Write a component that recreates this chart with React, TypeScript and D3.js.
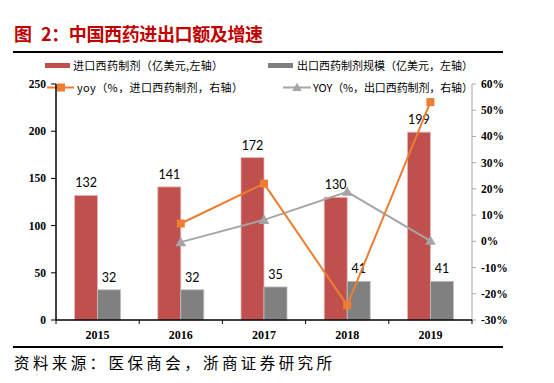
import React from "react";
import * as d3 from "d3";

const years = ["2015", "2016", "2017", "2018", "2019"];
const importValues = [132, 141, 172, 130, 199];
const exportValues = [32, 32, 35, 41, 41];
const importYoy: (number | null)[] = [null, 6.8, 22.0, -24.4, 53.1];
const exportYoy: (number | null)[] = [null, -0.3, 8.2, 18.9, 0.2];
const leftTicks = [0, 50, 100, 150, 200, 250];
const rightTicks = [-30, -20, -10, 0, 10, 20, 30, 40, 50, 60];

const titleHead = "图";
const titleRest = "2：中国西药进出口额及增速";
const legendLabels = [
  "进口西药制剂（亿美元,左轴）",
  "出口西药制剂规模（亿美元，左轴）",
  "yoy（%，进口西药制剂，右轴）",
  "YOY（%，出口西药制剂，右轴）",
];
const source = "资料来源：医保商会，浙商证券研究所";

const RED = "#C0504D";
const GRAY = "#808080";
const ORANGE = "#ED7D31";
const LGRAY = "#A5A5A5";

export default function App() {
  const W = 554, H = 383;
  const x = d3.scaleBand<string>().domain(years).range([56, 472]).padding(0);
  const yL = d3.scaleLinear().domain([0, 250]).range([320, 84]);
  const yR = d3.scaleLinear().domain([-30, 60]).range([320, 84]);
  const bw = 23;
  const cx = (y: string) => (x(y) as number) + x.bandwidth() / 2;

  const line = d3
    .line<[string, number | null]>()
    .defined((d) => d[1] !== null)
    .x((d) => cx(d[0]))
    .y((d) => yR(d[1] as number));

  const impPts = years.map((y, i) => [y, importYoy[i]] as [string, number | null]);
  const expPts = years.map((y, i) => [y, exportYoy[i]] as [string, number | null]);

  const cjk = "'Noto Sans CJK SC', sans-serif";
  const serifBold = "'Liberation Serif', 'Times New Roman', serif";
  const lbl = "Lato, 'Open Sans', sans-serif";

  const tri = (px: number, py: number, s: number) =>
    `M${px},${py - s * 0.6}L${px + s * 0.6},${py + s * 0.45}L${px - s * 0.6},${py + s * 0.45}Z`;

  return (
    <svg width={W} height={H} style={{ position: "absolute", left: 0, top: 0, background: "#fff" }}>
      <rect width={W} height={H} fill="#fff" />
      <text x={14} y={41} fill="#C00000" fontSize={18} fontWeight="bold" fontFamily={cjk}>
        {titleHead}
      </text>
      <text x={41} y={41} fill="#C00000" fontSize={18} fontWeight="bold" fontFamily={cjk}
        textLength={222} lengthAdjust="spacing">
        {titleRest}
      </text>
      <line x1={13} x2={503} y1={52} y2={52} stroke="#000" strokeWidth={2} />

      {/* legend */}
      <rect x={45} y={63} width={25} height={5} fill={RED} />
      <text x={73} y={69.5} fontSize={11} fontFamily={cjk} fill="#000" textLength={150} lengthAdjust="spacing">
        {legendLabels[0]}
      </text>
      <rect x={268} y={63} width={25} height={5} fill={GRAY} />
      <text x={297} y={69.5} fontSize={11} fontFamily={cjk} fill="#000" textLength={176} lengthAdjust="spacing">
        {legendLabels[1]}
      </text>
      <line x1={47} x2={74} y1={87.5} y2={87.5} stroke={ORANGE} strokeWidth={2} />
      <rect x={57} y={83.5} width={8} height={8} fill={ORANGE} />
      <text x={77} y={92} fontSize={11} fontFamily={cjk} fill="#000" textLength={166} lengthAdjust="spacing">
        {legendLabels[2]}
      </text>
      <line x1={283} x2={311} y1={87.5} y2={87.5} stroke={LGRAY} strokeWidth={2} />
      <path d={tri(297, 87.5, 8)} fill={LGRAY} />
      <text x={313} y={92} fontSize={11} fontFamily={cjk} fill="#000" textLength={160} lengthAdjust="spacing">
        {legendLabels[3]}
      </text>

      {/* bars */}
      {years.map((y, i) => (
        <g key={y}>
          <rect
            x={cx(y) - bw}
            y={yL(importValues[i])}
            width={bw}
            height={320 - yL(importValues[i])}
            fill={RED}
            stroke="#E6B9B8"
            strokeWidth={0.8}
          />
          <rect
            x={cx(y)}
            y={yL(exportValues[i])}
            width={bw}
            height={320 - yL(exportValues[i])}
            fill={GRAY}
            stroke="#BFBFBF"
            strokeWidth={0.8}
          />
          <text
            x={cx(y) - bw / 2}
            y={yL(importValues[i]) - 8}
            textAnchor="middle"
            fontSize={12.5}
            fontFamily={lbl}
            fill="#000"
          >
            {importValues[i]}
          </text>
          <text
            x={cx(y) + bw / 2}
            y={yL(exportValues[i]) - 8}
            textAnchor="middle"
            fontSize={12.5}
            fontFamily={lbl}
            fill="#000"
          >
            {exportValues[i]}
          </text>
        </g>
      ))}

      {/* left axis */}
      <line x1={56} x2={56} y1={84} y2={320} stroke="#000" strokeWidth={1.5} />
      {leftTicks.map((t) => (
        <g key={t}>
          <line x1={51} x2={56} y1={yL(t)} y2={yL(t)} stroke="#000" />
          <text
            x={46}
            y={yL(t) + 4}
            textAnchor="end"
            fontSize={11.5}
            fontWeight="bold"
            fontFamily={serifBold}
            fill="#000"
          >
            {t}
          </text>
        </g>
      ))}

      {/* right axis */}
      <line x1={472} x2={472} y1={84} y2={320} stroke="#A6A6A6" strokeWidth={1} />
      {rightTicks.map((t) => (
        <g key={t}>
          <line x1={472} x2={476} y1={yR(t)} y2={yR(t)} stroke="#A6A6A6" />
          <text
            x={481}
            y={yR(t) + 4}
            textAnchor="start"
            fontSize={11.5}
            fontWeight="bold"
            fontFamily={serifBold}
            fill="#000"
          >
            {t + "%"}
          </text>
        </g>
      ))}

      {/* x axis */}
      <line x1={56} x2={472} y1={320} y2={320} stroke="#000" strokeWidth={1.5} />
      {[...years.map((y) => x(y) as number), 472].map((px, i) => (
        <line key={i} x1={px} x2={px} y1={320} y2={324} stroke="#000" />
      ))}
      {years.map((y) => (
        <text
          key={y}
          x={cx(y)}
          y={339}
          textAnchor="middle"
          fontSize={12}
          fontWeight="bold"
          fontFamily={serifBold}
          fill="#000"
        >
          {y}
        </text>
      ))}

      {/* lines */}
      <path d={line(expPts) || ""} fill="none" stroke={LGRAY} strokeWidth={2} />
      {expPts
        .filter((d) => d[1] !== null)
        .map((d) => (
          <path key={d[0]} d={tri(cx(d[0]), yR(d[1] as number), 9)} fill={LGRAY} />
        ))}
      <path d={line(impPts) || ""} fill="none" stroke={ORANGE} strokeWidth={2} />
      {impPts
        .filter((d) => d[1] !== null)
        .map((d) => (
          <rect
            key={d[0]}
            x={cx(d[0]) - 4}
            y={yR(d[1] as number) - 4}
            width={8}
            height={8}
            fill={ORANGE}
          />
        ))}

      <line x1={13} x2={503} y1={347} y2={347} stroke="#000" strokeWidth={2} />
      <text x={14} y={369} fontSize={15.5} fontFamily={cjk} fill="#000" textLength={318} lengthAdjust="spacing">
        {source}
      </text>
    </svg>
  );
}
